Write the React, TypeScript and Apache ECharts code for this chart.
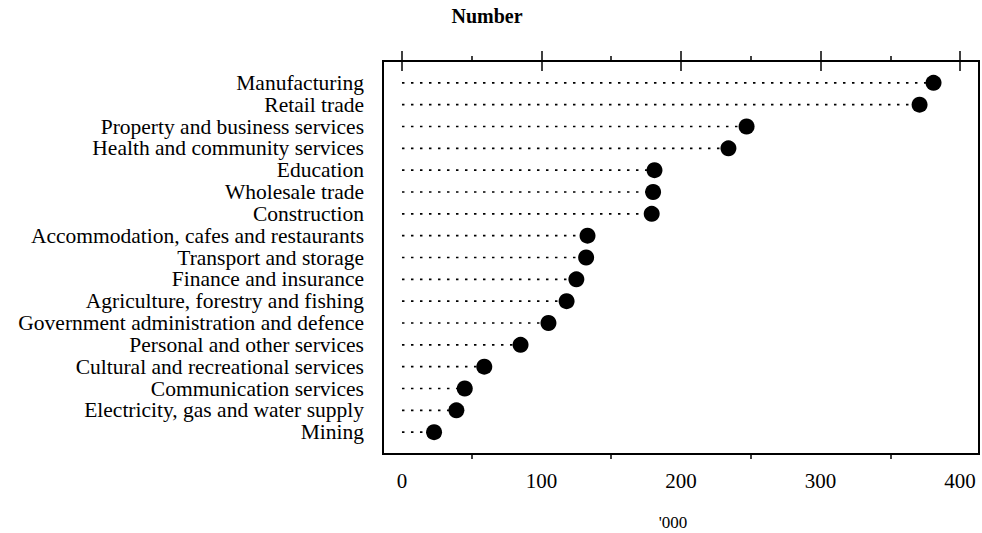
import React, { useEffect, useRef } from "react";
import * as echarts from "echarts";

const categories = [
  "Manufacturing",
  "Retail trade",
  "Property and business services",
  "Health and community services",
  "Education",
  "Wholesale trade",
  "Construction",
  "Accommodation, cafes and restaurants",
  "Transport and storage",
  "Finance and insurance",
  "Agriculture, forestry and fishing",
  "Government administration and defence",
  "Personal and other services",
  "Cultural and recreational services",
  "Communication services",
  "Electricity, gas and water supply",
  "Mining",
];

const values = [381, 371, 247, 234, 181, 180, 179, 133, 132, 125, 118, 105, 85, 59, 45, 39, 23];

const xMajorTicks = [0, 100, 200, 300, 400];
const xMinorTicks = [50, 150, 250, 350];

const FONT = "'Liberation Serif', 'Times New Roman', serif";
const X_MIN = -13.6;
const X_MAX = 413.6;

const GRID = { left: 383, top: 61, width: 596, height: 393 };

function tickAxis(position: string, gridIndex: number, ticks: number[], length: number, labels: boolean) {
  return {
    type: "value",
    gridIndex,
    position,
    min: X_MIN,
    max: X_MAX,
    axisLine: { show: false },
    splitLine: { show: false },
    axisTick: {
      show: true,
      inside: false,
      length,
      lineStyle: { color: "#000", width: 1.5 },
      customValues: ticks,
    },
    axisLabel: labels
      ? { show: true, fontFamily: FONT, fontSize: 21, color: "#000", margin: 16, customValues: ticks }
      : { show: false },
  };
}

export default function App() {
  const ref = useRef<HTMLDivElement>(null);

  useEffect(() => {
    if (!ref.current) return;
    const chart = echarts.init(ref.current, null, { renderer: "svg" });
    const rows = values.map((v, i) => [v, i + 1]);

    chart.setOption({
      animation: false,
      backgroundColor: "#ffffff",
      grid: [
        {
          ...GRID,
          show: true,
          borderColor: "#000",
          borderWidth: 2,
          backgroundColor: "transparent",
        },
        { ...GRID, show: false },
      ],
      graphic: [
        {
          type: "text",
          x: 487,
          y: 16,
          style: {
            text: "Number",
            fontFamily: FONT,
            fontWeight: "bold",
            fontSize: 20,
            fill: "#000",
            align: "center",
            verticalAlign: "middle",
          },
        },
        {
          type: "text",
          x: 673,
          y: 522,
          style: {
            text: "'000",
            fontFamily: FONT,
            fontSize: 17,
            fill: "#000",
            align: "center",
            verticalAlign: "middle",
          },
        },
      ],
      xAxis: [
        tickAxis("bottom", 0, xMajorTicks, 10, true),
        tickAxis("top", 0, xMajorTicks, 10, false),
        tickAxis("bottom", 1, xMinorTicks, 5, false),
        tickAxis("top", 1, xMinorTicks, 5, false),
      ],
      yAxis: [
        {
          type: "value",
          gridIndex: 0,
          min: 0,
          max: categories.length + 1,
          interval: 1,
          inverse: true,
          axisLine: { show: false },
          axisTick: { show: false },
          splitLine: { show: false },
          axisLabel: {
            fontFamily: FONT,
            fontSize: 21.5,
            lineHeight: 20,
            color: "#000",
            margin: 19,
            formatter: (v: number) => categories[v - 1] ?? "",
          },
        },
        {
          type: "value",
          gridIndex: 1,
          min: 0,
          max: categories.length + 1,
          show: false,
        },
      ],
      series: [
        {
          type: "custom",
          xAxisIndex: 0,
          yAxisIndex: 0,
          data: rows,
          silent: true,
          renderItem: (params: any, api: any) => {
            const start = api.coord([0, api.value(1)]);
            const end = api.coord([api.value(0), api.value(1)]);
            return {
              type: "line",
              shape: { x1: start[0], y1: start[1], x2: end[0], y2: end[1] },
              style: { stroke: "#000", lineWidth: 1.6, lineDash: [2.5, 6.5] },
            };
          },
        },
        {
          type: "scatter",
          xAxisIndex: 0,
          yAxisIndex: 0,
          data: rows,
          symbol: "circle",
          symbolSize: 16,
          itemStyle: { color: "#000", opacity: 1 },
          silent: true,
        },
      ],
    });

    return () => chart.dispose();
  }, []);

  return (
    <div
      ref={ref}
      style={{ position: "fixed", left: 0, top: 0, width: 982, height: 533, background: "#fff" }}
    />
  );
}
